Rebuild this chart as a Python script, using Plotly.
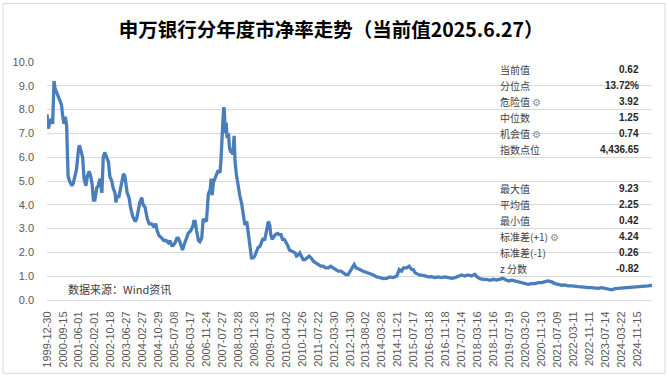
import plotly.graph_objects as go

title_text = "申万银行分年度市净率走势（当前值2025.6.27）"
source_text = "数据来源：Wind资讯"

tick_labels = [
    "1999-12-30", "2000-09-15", "2001-06-01", "2002-02-01", "2002-10-18", "2003-06-27",
    "2004-02-27", "2004-10-29", "2005-07-08", "2006-03-17", "2006-11-24", "2007-07-27",
    "2008-03-28", "2008-11-28", "2009-07-31", "2010-04-02", "2010-11-26", "2011-07-22",
    "2012-03-30", "2012-11-30", "2013-08-02", "2014-03-28", "2014-11-21", "2015-07-17",
    "2016-03-18", "2016-11-18", "2017-07-14", "2018-03-16", "2018-11-16", "2019-07-19",
    "2020-03-20", "2020-11-13", "2021-07-09", "2022-03-11", "2022-11-11", "2023-07-14",
    "2024-03-22", "2024-11-15",
]
label_step = 34  # weekly observations between two axis labels

week_idx = [
    0, 3, 6, 10, 12, 13, 15, 17, 21, 24, 28, 31, 33, 36, 39, 42, 43, 45, 48, 53,
    56, 60, 63, 67, 69, 72, 76, 79, 83, 86, 90, 93, 96, 99, 102, 106, 109, 113, 117, 120,
    123, 127, 131, 134, 138, 141, 145, 147, 150, 153, 156, 159, 163, 166, 168, 171, 175, 178, 183, 188,
    191, 195, 198, 202, 205, 209, 211, 214, 218, 223, 227, 232, 235, 239, 245, 249, 254, 259, 262, 266,
    269, 273, 277, 280, 284, 289, 292, 296, 301, 306, 311, 313, 316, 319, 323, 326, 330, 333, 337, 340,
    344, 348, 350, 352, 355, 358, 362, 365, 369, 371, 372, 375, 377, 378, 380, 382, 384, 387, 389, 392,
    394, 396, 399, 401, 404, 406, 409, 411, 415, 418, 422, 426, 428, 431, 433, 436, 440, 443, 447, 450,
    454, 457, 461, 464, 468, 472, 475, 477, 480, 484, 487, 492, 495, 499, 502, 506, 509, 513, 517, 522,
    525, 529, 532, 536, 539, 543, 546, 550, 555, 559, 563, 568, 573, 578, 584, 589, 594, 600, 605, 610,
    616, 621, 627, 632, 637, 642, 646, 651, 655, 659, 664, 667, 674, 682, 689, 696, 703, 710, 717, 724,
    731, 738, 746, 751, 756, 760, 767, 772, 778, 781, 785, 792, 799, 806, 813, 820, 827, 834, 841, 849,
    856, 863, 870, 877, 884, 891, 898, 905, 912, 917, 923, 930, 937, 944, 952, 959, 966, 972, 976, 984,
    991, 998, 1005, 1012, 1019, 1026, 1033, 1040, 1048, 1055, 1062, 1069, 1076, 1083, 1090, 1097, 1104, 1111, 1119, 1126,
    1133, 1140, 1147, 1154, 1161, 1168, 1175, 1183, 1190, 1197, 1204, 1211, 1218, 1225, 1232, 1239, 1246, 1254, 1261, 1268,
    1275, 1282, 1290,
]
pb = [
    7.8, 7.2, 7.5, 7.6, 7.4, 8.0, 9.2, 8.9, 8.7, 8.6, 8.4, 8.2, 7.8, 7.4, 7.7, 7.3, 6.5, 5.2, 5.0, 4.8,
    4.9, 5.3, 5.5, 6.3, 6.5, 6.3, 6.0, 5.1, 4.8, 5.2, 5.4, 5.2, 4.9, 4.2, 4.2, 4.7, 4.8, 5.1, 4.5, 6.0,
    6.2, 6.0, 5.8, 5.2, 5.0, 4.7, 4.5, 4.1, 4.4, 4.3, 4.6, 5.0, 5.3, 5.2, 4.8, 4.5, 4.3, 3.9, 3.5, 3.3,
    3.4, 3.8, 4.1, 4.3, 4.0, 3.9, 3.6, 3.4, 3.2, 3.2, 3.1, 3.2, 2.9, 2.7, 2.6, 2.5, 2.5, 2.4, 2.5, 2.3,
    2.3, 2.4, 2.6, 2.6, 2.4, 2.1, 2.3, 2.5, 2.8, 2.9, 3.1, 3.3, 3.3, 2.9, 2.5, 2.45, 2.6, 3.4, 3.35, 3.3,
    4.45, 4.65, 5.1, 4.4, 4.95, 5.15, 5.3, 5.45, 5.35, 5.9, 6.6, 7.5, 8.1, 8.0, 7.0, 7.45, 6.8, 7.0, 6.4, 6.2,
    6.35, 6.1, 6.9, 5.8, 5.25, 4.95, 4.65, 4.4, 4.05, 3.7, 3.15, 3.3, 3.0, 2.6, 2.25, 1.77, 1.77, 1.85, 2.05, 2.2,
    2.25, 2.45, 2.6, 2.5, 3.0, 3.3, 3.15, 2.75, 2.55, 2.65, 2.75, 2.8, 2.75, 2.75, 2.55, 2.55, 2.45, 2.3, 2.1, 2.05,
    2.05, 1.98, 1.85, 1.9, 1.98, 1.77, 1.7, 1.7, 1.77, 1.84, 1.77, 1.63, 1.56, 1.49, 1.42, 1.42, 1.35, 1.35, 1.42, 1.35,
    1.28, 1.21, 1.21, 1.14, 1.07, 1.07, 1.21, 1.42, 1.49, 1.35, 1.28, 1.28, 1.21, 1.17, 1.10, 1.05, 0.97, 0.94, 0.90, 0.91,
    0.97, 0.94, 1.01, 1.28, 1.21, 1.35, 1.35, 1.42, 1.28, 1.28, 1.14, 1.07, 1.05, 1.01, 0.97, 0.98, 0.94, 0.97, 0.94, 0.97,
    0.94, 0.91, 0.94, 0.98, 1.05, 1.01, 1.05, 1.01, 1.08, 0.97, 0.90, 0.87, 0.87, 0.83, 0.87, 0.84, 0.87, 0.91, 0.87, 0.80,
    0.83, 0.80, 0.77, 0.73, 0.69, 0.66, 0.69, 0.69, 0.73, 0.73, 0.77, 0.80, 0.76, 0.69, 0.66, 0.62, 0.63, 0.59, 0.59, 0.56,
    0.56, 0.55, 0.52, 0.52, 0.52, 0.49, 0.49, 0.52, 0.49, 0.48, 0.43, 0.48, 0.49, 0.49, 0.52, 0.52, 0.52, 0.55, 0.55, 0.55,
    0.56, 0.59, 0.62,
]

stats_top_labels = ["当前值", "分位点", "危险值", "中位数", "机会值", "指数点位"]
stats_top_values = ["0.62", "13.72%", "3.92", "1.25", "0.74", "4,436.65"]
stats_top_icon = [False, False, True, False, True, False]
stats_bot_labels = ["最大值", "平均值", "最小值", "标准差(+1)", "标准差(-1)", "z 分数"]
stats_bot_values = ["9.23", "2.25", "0.42", "4.24", "0.26", "-0.82"]
stats_bot_icon = [False, False, False, True, False, False]

CJK = "Noto Sans CJK SC"
LAT = "Liberation Sans"
GRID = "#d9d9d9"
TXT = "#595959"

W, H = 669, 380
ML, MR, MT, MB = 47, 17, 62, 78
pw, ph = W - ML - MR, H - MT - MB


def px2paper_x(px):
    return (px - ML) / pw


def px2paper_y(py):
    return (H - MB - py) / ph


fig = go.Figure()
fig.add_trace(go.Scatter(
    x=week_idx, y=pb, mode="lines",
    line=dict(color="#4a7ebb", width=3.3),
    hoverinfo="skip", showlegend=False,
))

fig.update_layout(
    width=W, height=H,
    margin=dict(l=ML, r=MR, t=MT, b=MB),
    paper_bgcolor="white", plot_bgcolor="white",
    title=dict(text="<b>" + title_text + "</b>", x=0.495, xanchor="center",
               xref="container", yref="container", y=1 - 30 / H, yanchor="middle",
               font=dict(family=CJK, size=19.5, color="#000000")),
    xaxis=dict(
        range=[0, week_idx[-1]],
        tickmode="array",
        tickvals=[i * label_step for i in range(len(tick_labels))],
        ticktext=tick_labels,
        tickangle=-90,
        tickfont=dict(family=LAT, size=11, color=TXT),
        showgrid=False, zeroline=False,
        showline=True, linecolor=GRID, linewidth=1,
        ticks="", ticklabelstandoff=6,
    ),
    yaxis=dict(
        range=[0, 10], tickmode="linear", tick0=0, dtick=1, tickformat=".1f",
        tickfont=dict(family=LAT, size=11, color=TXT),
        showgrid=True, gridcolor=GRID, gridwidth=1, zeroline=False,
        showline=False, ticks="", ticklabelstandoff=12,
    ),
)

# outer frame
fig.add_shape(type="rect", xref="paper", yref="paper",
              x0=px2paper_x(3), x1=px2paper_x(665), y0=px2paper_y(376), y1=px2paper_y(3),
              line=dict(color=GRID, width=1), fillcolor="rgba(0,0,0,0)", layer="below")

# statistics boxes (white panels over the gridlines)
box_x0, box_x1 = px2paper_x(495), px2paper_x(646)
for ytop, ybot in [(10, 6), (5, 1)]:
    fig.add_shape(type="rect", xref="paper", yref="y",
                  x0=box_x0, x1=box_x1, y0=ybot + 0.04, y1=ytop - 0.04,
                  line=dict(width=0), fillcolor="white", layer="between")

gear = " <span style='color:#8c8c8c;font-size:10px'>⚙</span>"


def add_table(labels, values, icons, ytop):
    n = len(labels)
    for k in range(n):
        yy = ytop - (k + 0.5) * 4 / n
        fig.add_annotation(xref="paper", yref="y", x=px2paper_x(498), y=yy,
                           text=labels[k] + (gear if icons[k] else ""),
                           showarrow=False, xanchor="left", yanchor="middle",
                           font=dict(family=CJK, size=10, color="#404040"))
        fig.add_annotation(xref="paper", yref="y", x=px2paper_x(641), y=yy,
                           text="<b>" + values[k] + "</b>",
                           showarrow=False, xanchor="right", yanchor="middle",
                           font=dict(family=LAT, size=10, color="#262626"))


add_table(stats_top_labels, stats_top_values, stats_top_icon, 10)
add_table(stats_bot_labels, stats_bot_values, stats_bot_icon, 5)

fig.add_annotation(xref="paper", yref="paper", x=px2paper_x(66), y=px2paper_y(291),
                   text=source_text, showarrow=False, xanchor="left", yanchor="middle",
                   font=dict(family=CJK, size=11, color="#404040"))

fig.write_html("out.html", config={"displayModeBar": False},
               post_script="document.body.style.margin='0';")
